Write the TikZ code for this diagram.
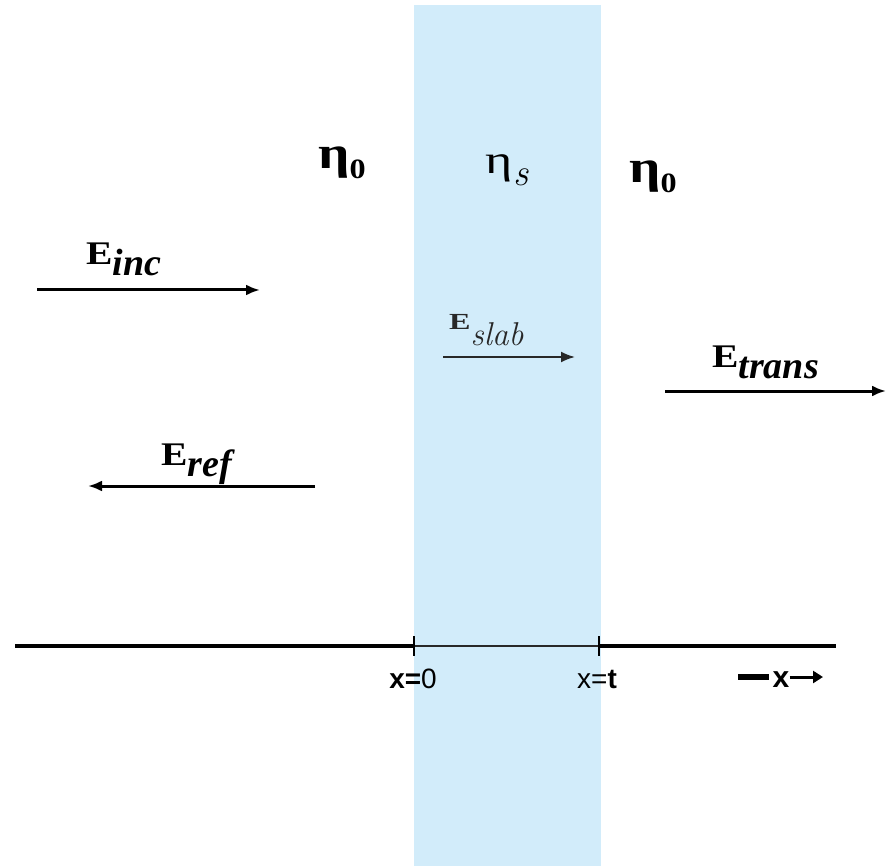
\documentclass[tikz,border=0pt]{standalone}
\usepackage{fontspec}
\newfontfamily\grk{Liberation Serif}
\newfontfamily\hel{Liberation Sans}
\usetikzlibrary{arrows.meta}
\definecolor{slabblue}{RGB}{210,236,250}
\definecolor{axgrey}{RGB}{40,40,40}
\newcommand{\Elbl}[1]{\scalebox{1.2}[1]{\fontsize{33}{36}\selectfont\grk\bfseries E}\raisebox{-11pt}{\fontsize{38}{40}\selectfont\grk\bfseries\itshape #1}}
\newcommand{\etazero}{\scalebox{1.2}[1]{\fontsize{46}{50}\selectfont\grk\bfseries η}\raisebox{-10pt}{\scalebox{1.15}[1]{\fontsize{28}{30}\selectfont\grk\bfseries 0}}}
\begin{document}
\begin{tikzpicture}[x=1pt,y=-1pt,
  wave/.style={line width=3pt,-{Latex[length=14pt,width=11pt]}},
  lbl/.style={inner sep=0pt},
  axlbl/.style={inner sep=0pt,anchor=base,font=\fontsize{28}{30}\selectfont\hel}]
\useasboundingbox (0,0) rectangle (888,866);
\fill[slabblue] (414,5) rectangle (601,866);
% axis
\coordinate (a0) at (15,646);
\coordinate (a1) at (414,646);
\coordinate (a2) at (599,646);
\coordinate (a3) at (836,646);
\draw[line width=3.5pt] (a0) -- (a1);
\draw[line width=1.5pt,axgrey] (a1) -- (a2);
\draw[line width=3.5pt] (a2) -- (a3);
\draw[line width=2.5pt] (414,636) -- (414,656);
\draw[line width=2.5pt] (599,636) -- (599,656);
\node[axlbl] (x0) at (413,688) {\textbf{x=}0};
\node[axlbl] (xt) at (597,688) {x=\textbf{t}};
% axis direction sign
\coordinate (d0) at (738,677); \coordinate (d1) at (769,677);
\draw[line width=6pt] (d0) -- (d1);
\node[inner sep=0pt,anchor=base,font=\fontsize{30}{32}\selectfont\hel\bfseries] (xx) at (781,687) {x};
\coordinate (d2) at (823,677);
\draw[line width=3pt,-{Triangle[length=10pt,width=12pt]}] (xx.east |- d2) -- (d2);
% eta labels
\node[lbl] (e1) at (342,163) {\etazero};
\node[lbl] (es) at (507,170) {\scalebox{1.3}[1]{\fontsize{40}{44}\selectfont\grk η}\raisebox{-12pt}{\fontsize{38}{40}\selectfont\itshape s}};
\node[lbl] (e2) at (653,177) {\etazero};
% waves
\coordinate (i0) at (37,290); \coordinate (i1) at (260,290);
\draw[wave] (i0) -- (i1);
\node[lbl,anchor=base west] (Einc) at (86,265) {\Elbl{inc}};
\coordinate (s0) at (443,357); \coordinate (s1) at (575,357);
\draw[wave,line width=2pt,axgrey] (s0) -- (s1);
\node[lbl,axgrey,anchor=base west] (Eslab) at (449,330) {\scalebox{1.4}[1]{\fontsize{23}{28}\selectfont\grk\bfseries E}\raisebox{-16pt}{\fontsize{33}{36}\selectfont\itshape slab}};
\coordinate (t0) at (665,391); \coordinate (t1) at (886,391);
\draw[wave] (t0) -- (t1);
\node[lbl,anchor=base west] (Etrans) at (712,367) {\Elbl{trans}};
\coordinate (r0) at (315,486); \coordinate (r1) at (88,486);
\draw[wave] (r0) -- (r1);
\node[lbl,anchor=base west] (Eref) at (161,465) {\Elbl{ref}};
\end{tikzpicture}
\end{document}
